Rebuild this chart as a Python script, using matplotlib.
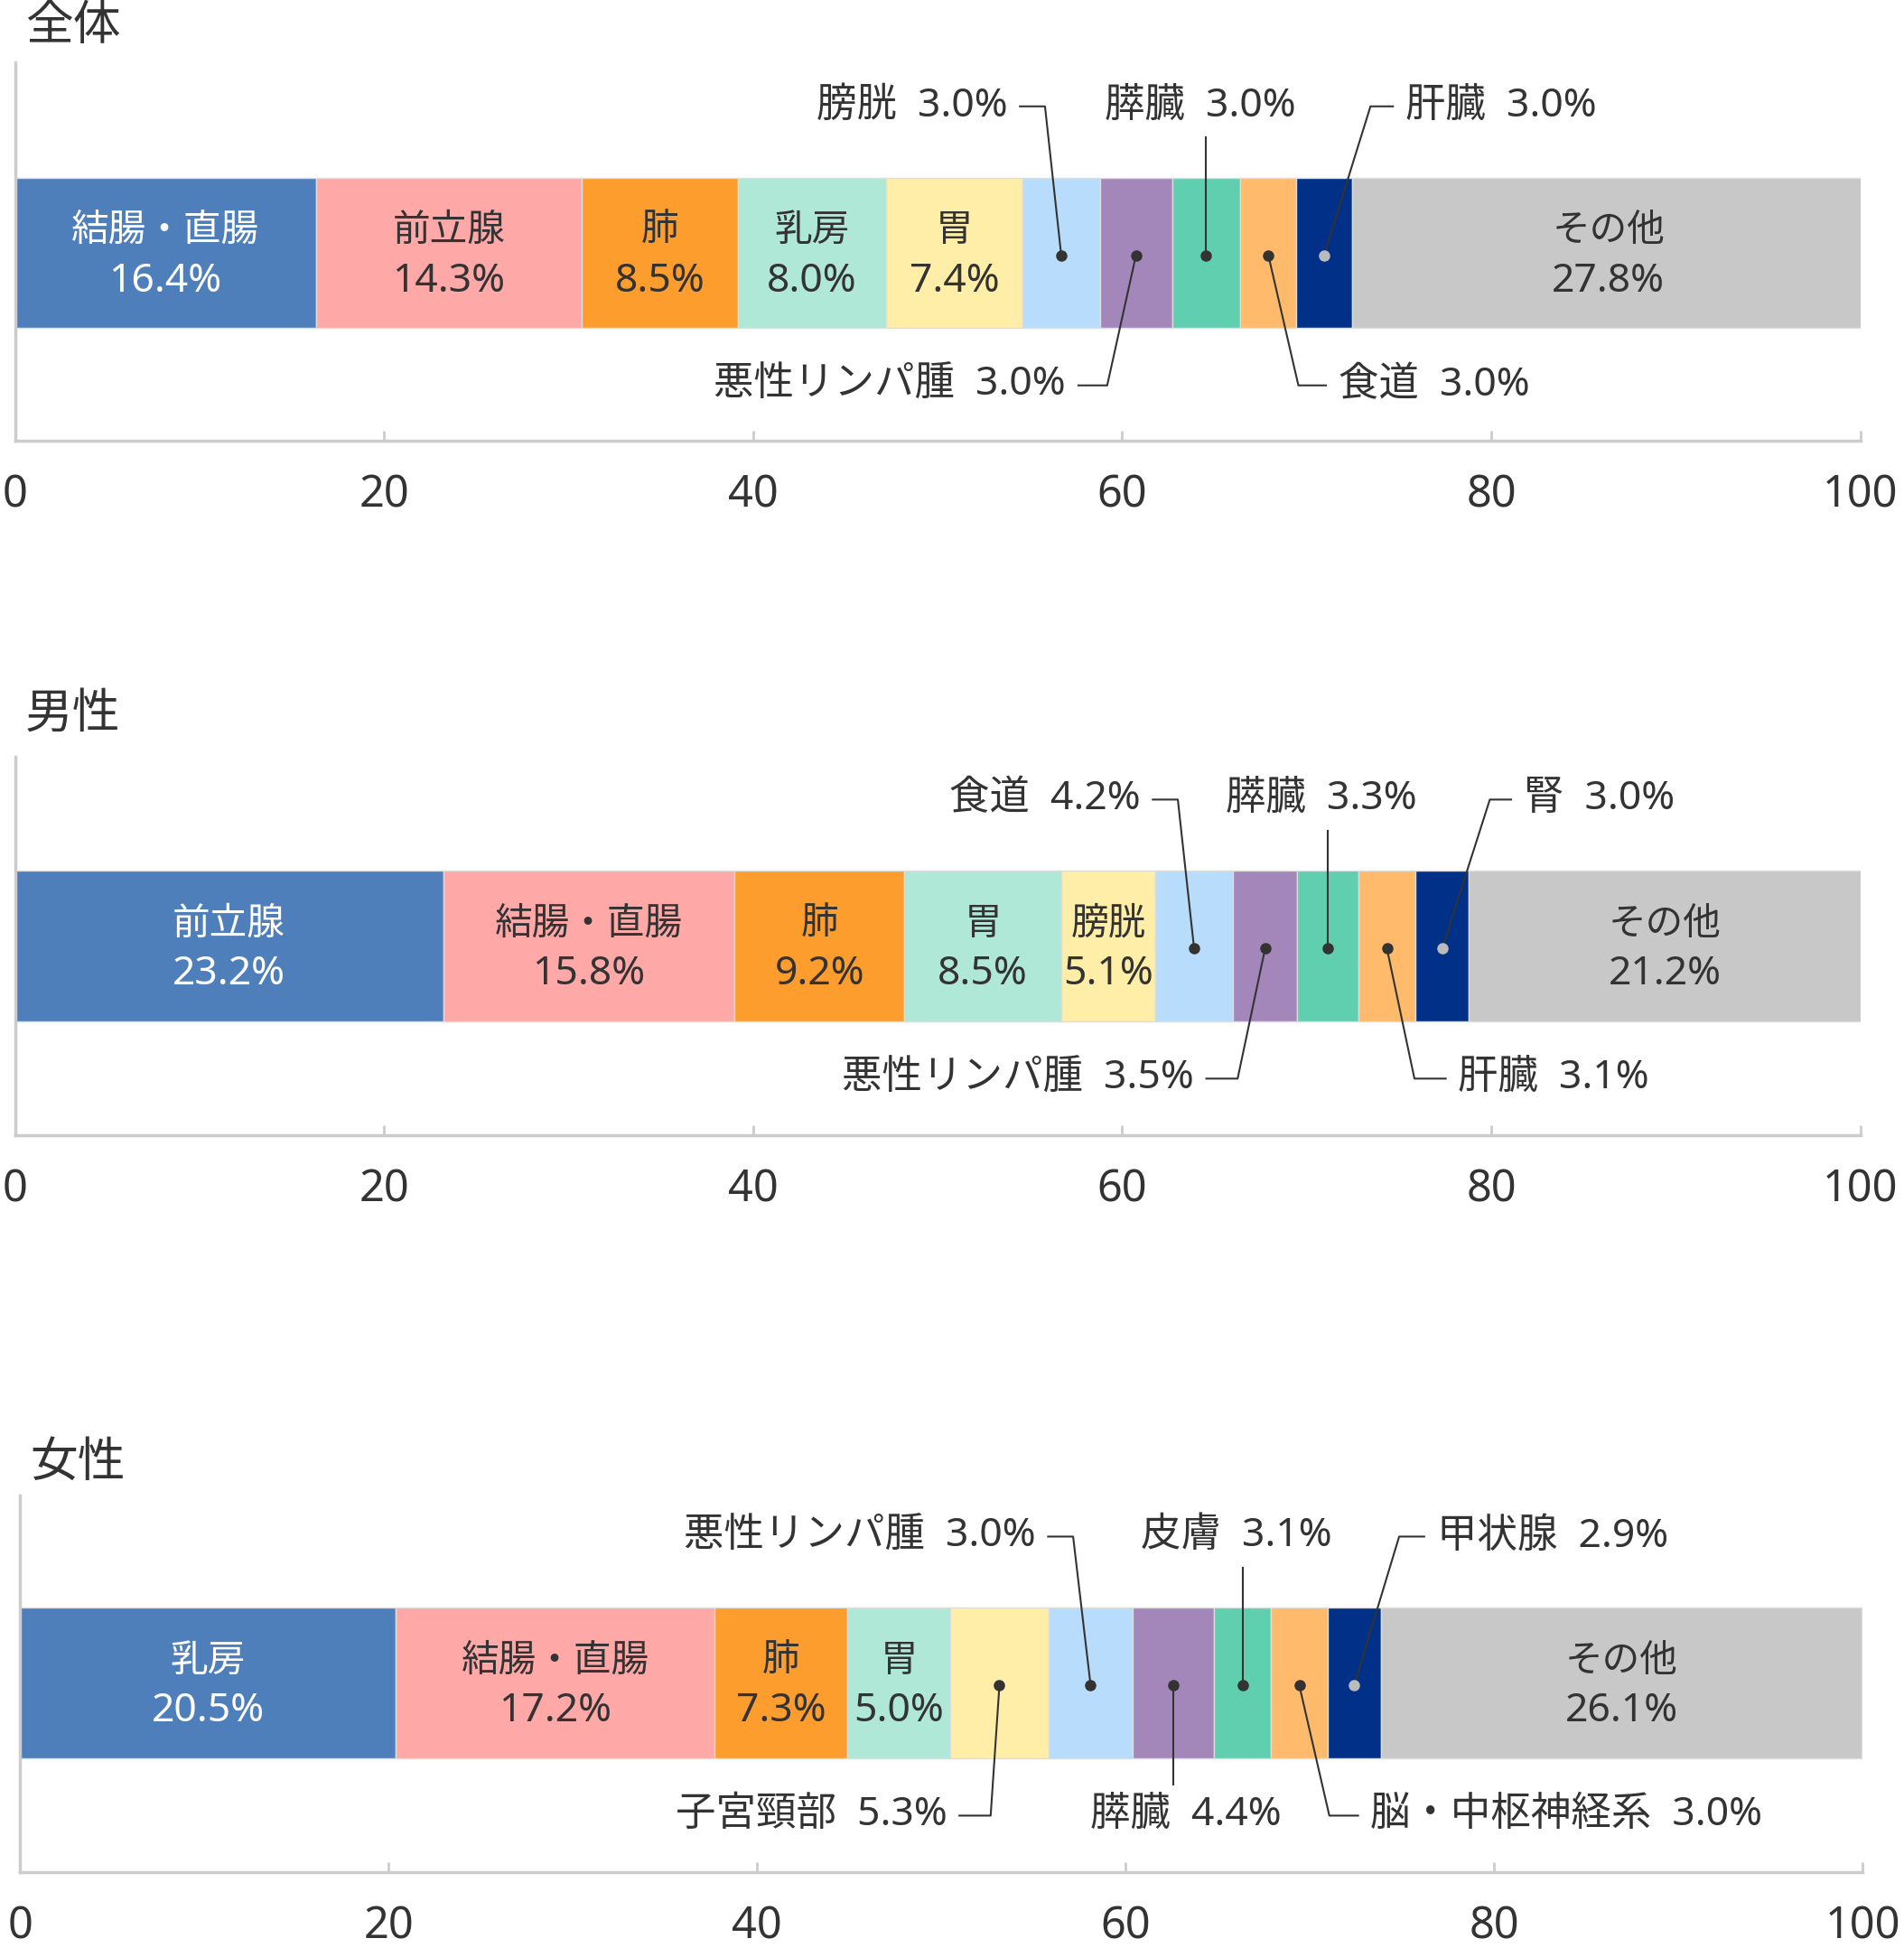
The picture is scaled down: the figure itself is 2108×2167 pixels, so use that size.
import matplotlib
matplotlib.use("Agg")
import matplotlib.pyplot as plt

plt.rcParams["font.family"] = ["Noto Sans", "Noto Sans CJK JP", "DejaVu Sans"]

# ---------------- data ----------------
titles = ["全体", "男性", "女性"]
names_all = ["結腸・直腸", "前立腺", "肺", "乳房", "胃", "膀胱", "悪性リンパ腫", "膵臓", "食道", "肝臓", "その他"]
widths_all = [16.3, 14.4, 8.5, 8.0, 7.4, 4.2, 3.9, 3.7, 3.05, 3.0, 27.8]
labels_all = ["16.4%", "14.3%", "8.5%", "8.0%", "7.4%", "3.0%", "3.0%", "3.0%", "3.0%", "3.0%", "27.8%"]

names_male = ["前立腺", "結腸・直腸", "肺", "胃", "膀胱", "食道", "悪性リンパ腫", "膵臓", "肝臓", "腎", "その他"]
widths_male = [23.2, 15.8, 9.2, 8.5, 5.1, 4.2, 3.5, 3.3, 3.1, 2.9, 21.2]
labels_male = ["23.2%", "15.8%", "9.2%", "8.5%", "5.1%", "4.2%", "3.5%", "3.3%", "3.1%", "3.0%", "21.2%"]

names_female = ["乳房", "結腸・直腸", "肺", "胃", "子宮頸部", "悪性リンパ腫", "膵臓", "皮膚", "脳・中枢神経系", "甲状腺", "その他"]
widths_female = [20.4, 17.3, 7.2, 5.6, 5.3, 4.6, 4.4, 3.1, 3.05, 2.9, 26.1]
labels_female = ["20.5%", "17.2%", "7.3%", "5.0%", "5.3%", "3.0%", "4.4%", "3.1%", "3.0%", "2.9%", "26.1%"]

xticks = [0, 20, 40, 60, 80, 100]

colors = ["#4e7fbb", "#ffa8a8", "#fc9d2e", "#b0e8d8", "#ffeea8", "#b8dcfb",
          "#a387bb", "#5fcfb0", "#ffbb6b", "#003087", "#c8c8c8"]

# ---------------- layout (reference px, 1522x1564 space) ----------------
W, H = 1522.0, 1564.0
panels = [
    dict(names=names_all, widths=widths_all, labels=labels_all,
         x0=12, x100=1487, top=50, base=352, bar=202, title_y=22,
         inner=[0, 1, 2, 3, 4, 10],
         callouts=[(5, "top", -13, -20), (7, "top", 0, 0), (9, "top", 37, 18),
                   (6, "bottom", -23, -23), (8, "bottom", 24, 22)]),
    dict(names=names_male, widths=widths_male, labels=labels_male,
         x0=12, x100=1487, top=605, base=907, bar=756, title_y=572,
         inner=[0, 1, 2, 3, 4, 10],
         callouts=[(5, "top", -13, -20), (7, "top", 0, 0), (9, "top", 38, 17),
                   (6, "bottom", -22, -25), (8, "bottom", 22, 25)]),
    dict(names=names_female, widths=widths_female, labels=labels_female,
         x0=16, x100=1489, top=1195, base=1496, bar=1345, title_y=1170,
         inner=[0, 1, 2, 3, 10],
         callouts=[(5, "top", -14, -20), (7, "top", 0, 0), (9, "top", 36, 20),
                   (4, "bottom", -7, -25), (6, "bottom", 0, 0), (8, "bottom", 24, 23)]),
]

fig = plt.figure(figsize=(21.08, 21.67), dpi=100)
TXT = "#333333"
BAR_H = 120
FS_TICK = 35
FS_IN = 32
FS_CALL = 32

for k, p in enumerate(panels):
    ax = fig.add_axes([p["x0"] / W, 1 - p["base"] / H,
                       (p["x100"] - p["x0"]) / W, (p["base"] - p["top"]) / H])
    ax.set_xlim(0, 100)
    ax.set_ylim(p["base"], p["top"])
    sc = (p["x100"] - p["x0"]) / 100.0  # px per %
    for s in ["top", "right"]:
        ax.spines[s].set_visible(False)
    for s in ["left", "bottom"]:
        ax.spines[s].set_color("#cccccc")
        ax.spines[s].set_linewidth(2.5)
    ax.set_yticks([])
    ax.set_xticks(xticks)
    ax.set_xticklabels([str(t) for t in xticks])
    ax.tick_params(axis="x", direction="in", length=8, width=2, color="#cccccc",
                   labelsize=FS_TICK, labelcolor=TXT, pad=26)

    lefts = []
    acc = 0
    for w in p["widths"]:
        lefts.append(acc)
        acc += w
    ax.barh([p["bar"]], p["widths"], left=lefts, height=BAR_H, color=colors,
            edgecolor="#dddddd", linewidth=1)

    for i in p["inner"]:
        cx = lefts[i] + p["widths"][i] / 2
        col = "white" if i == 0 else TXT
        ax.text(cx, p["bar"] - 17, p["names"][i], ha="center", va="center",
                fontsize=FS_IN - 2, color=col)
        ax.text(cx, p["bar"] + 23, p["labels"][i], ha="center", va="center",
                fontsize=FS_IN, color=col)

    for (i, side, edx, hdx) in p["callouts"]:
        cx = lefts[i] + p["widths"][i] / 2
        cy = p["bar"] + 2
        ly = cy - 119 if side == "top" else cy + 104
        dotc = "#bbbbbb" if i == 9 else TXT
        txt = p["names"][i] + "  " + p["labels"][i]
        if edx == 0:
            ey = ly + 25 if side == "top" else ly - 25
            ax.plot([cx, cx], [cy, ey], color=TXT, lw=1.5, clip_on=False)
            ax.text(cx - 5 / sc if side == "top" else cx + 10 / sc, ly, txt,
                    ha="center", va="center", fontsize=FS_CALL, color=TXT, clip_on=False)
        else:
            ex = cx + edx / sc
            hx = ex + hdx / sc
            ax.plot([cx, ex, hx], [cy, ly, ly], color=TXT, lw=1.5, clip_on=False)
            if hdx < 0:
                ax.text(hx - 10 / sc, ly, txt, ha="right", va="center",
                        fontsize=FS_CALL, color=TXT, clip_on=False)
            else:
                ax.text(hx + 10 / sc, ly, txt, ha="left", va="center",
                        fontsize=FS_CALL, color=TXT, clip_on=False)
        ax.plot([cx], [cy], "o", ms=8, color=dotc, zorder=5, clip_on=False)

    fig.text((p["x0"] + 8) / W, 1 - p["title_y"] / H, titles[k],
             ha="left", va="center", fontsize=38, color=TXT)

fig.savefig("out.png", dpi=100)
